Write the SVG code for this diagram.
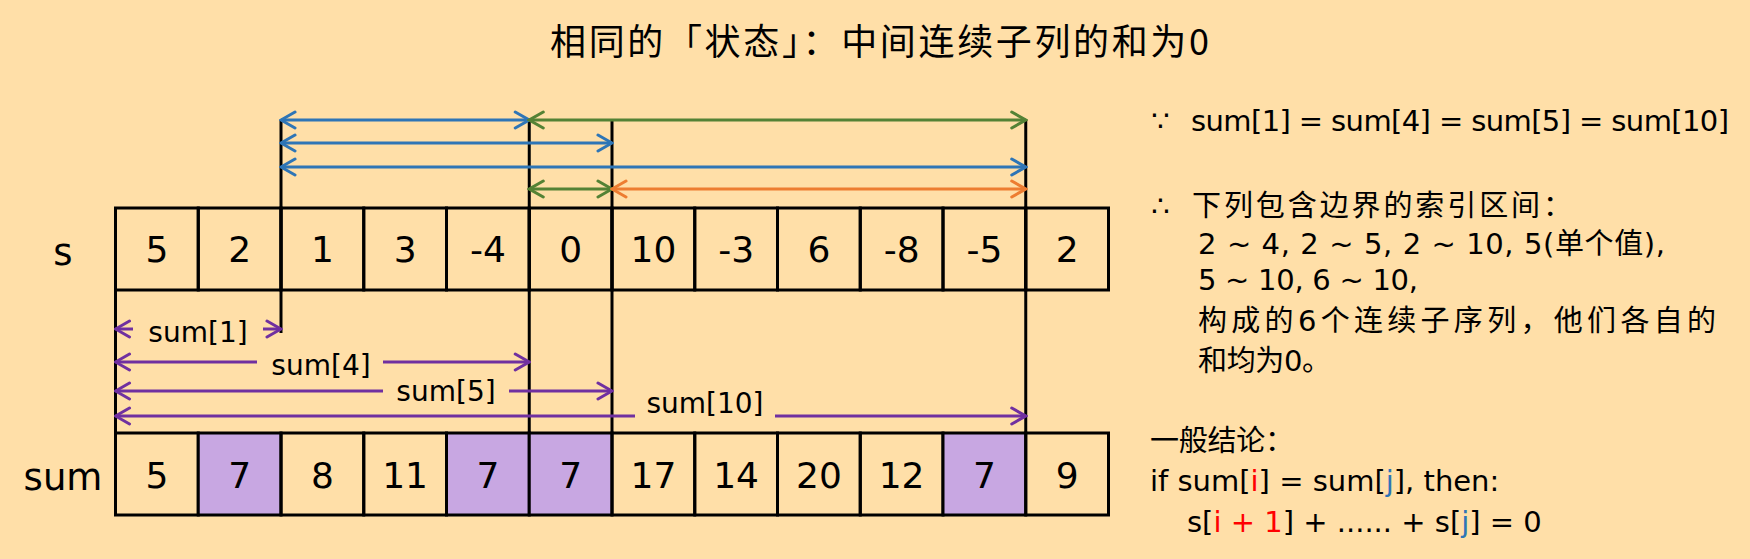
<svg xmlns="http://www.w3.org/2000/svg" width="1750" height="559" viewBox="0 0 1750 559">
<style>
.bg{fill:#FFDFA8}
.cell{fill:none;stroke:#000;stroke-width:3}
.hl{fill:#C8A7E2;stroke:#000;stroke-width:3}
.num{font-family:"DejaVu Sans",sans-serif;font-size:36px;fill:#000;text-anchor:middle}
.lab{font-family:"DejaVu Sans",sans-serif;font-size:37px;fill:#000;text-anchor:middle}
.sl{font-family:"DejaVu Sans",sans-serif;font-size:28px;fill:#000;text-anchor:middle}
.vl{stroke:#000;stroke-width:3;fill:none}
.ab{stroke:#2E75B6;stroke-width:3;fill:none}
.ag{stroke:#548235;stroke-width:3;fill:none}
.ao{stroke:#ED7D31;stroke-width:3;fill:none}
.ap{stroke:#7030A0;stroke-width:3;fill:none}
.title{font-family:"Noto Sans CJK SC",sans-serif;font-size:36px;fill:#000}
.rt{font-family:"DejaVu Sans","Noto Sans CJK SC",sans-serif;font-size:29px;fill:#000}
.red{fill:#FF0000}
.blu{fill:#2E75B6}
</style>
<defs>
<marker id="mb" viewBox="-16 -10 18 20" refX="0" refY="0" markerWidth="18" markerHeight="20" markerUnits="userSpaceOnUse" orient="auto-start-reverse"><path d="M-14,-8 L0,0 L-14,8" fill="none" stroke="#2E75B6" stroke-width="3" stroke-linecap="round"/></marker>
<marker id="mg" viewBox="-16 -10 18 20" refX="0" refY="0" markerWidth="18" markerHeight="20" markerUnits="userSpaceOnUse" orient="auto-start-reverse"><path d="M-14,-8 L0,0 L-14,8" fill="none" stroke="#548235" stroke-width="3" stroke-linecap="round"/></marker>
<marker id="mo" viewBox="-16 -10 18 20" refX="0" refY="0" markerWidth="18" markerHeight="20" markerUnits="userSpaceOnUse" orient="auto-start-reverse"><path d="M-14,-8 L0,0 L-14,8" fill="none" stroke="#ED7D31" stroke-width="3" stroke-linecap="round"/></marker>
<marker id="mp" viewBox="-16 -10 18 20" refX="0" refY="0" markerWidth="18" markerHeight="20" markerUnits="userSpaceOnUse" orient="auto-start-reverse"><path d="M-14,-8 L0,0 L-14,8" fill="none" stroke="#7030A0" stroke-width="3" stroke-linecap="round"/></marker>
</defs>
<rect class="bg" x="0" y="0" width="1750" height="559"/>
<text id="title" class="title" x="550" y="55" textLength="659">相同的「状态」：中间连续子列的和为0</text>

<g id="row-labels">
<text class="lab" x="63" y="265">s</text>
<text class="lab" x="63" y="490">sum</text>
</g>

<g id="s-row">
<g id="s0"><rect class="cell" x="115.5" y="208" width="82.75" height="82"/><text class="num" x="156.9" y="262">5</text></g>
<g id="s1"><rect class="cell" x="198.25" y="208" width="82.75" height="82"/><text class="num" x="239.6" y="262">2</text></g>
<g id="s2"><rect class="cell" x="281" y="208" width="82.75" height="82"/><text class="num" x="322.4" y="262">1</text></g>
<g id="s3"><rect class="cell" x="363.75" y="208" width="82.75" height="82"/><text class="num" x="405.1" y="262">3</text></g>
<g id="s4"><rect class="cell" x="446.5" y="208" width="82.75" height="82"/><text class="num" x="487.9" y="262">-4</text></g>
<g id="s5"><rect class="cell" x="529.25" y="208" width="82.75" height="82"/><text class="num" x="570.6" y="262">0</text></g>
<g id="s6"><rect class="cell" x="612" y="208" width="82.75" height="82"/><text class="num" x="653.4" y="262">10</text></g>
<g id="s7"><rect class="cell" x="694.75" y="208" width="82.75" height="82"/><text class="num" x="736.1" y="262">-3</text></g>
<g id="s8"><rect class="cell" x="777.5" y="208" width="82.75" height="82"/><text class="num" x="818.9" y="262">6</text></g>
<g id="s9"><rect class="cell" x="860.25" y="208" width="82.75" height="82"/><text class="num" x="901.6" y="262">-8</text></g>
<g id="s10"><rect class="cell" x="943" y="208" width="82.75" height="82"/><text class="num" x="984.4" y="262">-5</text></g>
<g id="s11"><rect class="cell" x="1025.75" y="208" width="82.75" height="82"/><text class="num" x="1067.1" y="262">2</text></g>
</g>

<g id="sum-row">
<g id="sum0"><rect class="cell" x="115.5" y="433" width="82.75" height="82"/><text class="num" x="156.9" y="488">5</text></g>
<g id="sum1"><rect class="hl" x="198.25" y="433" width="82.75" height="82"/><text class="num" x="239.6" y="488">7</text></g>
<g id="sum2"><rect class="cell" x="281" y="433" width="82.75" height="82"/><text class="num" x="322.4" y="488">8</text></g>
<g id="sum3"><rect class="cell" x="363.75" y="433" width="82.75" height="82"/><text class="num" x="405.1" y="488">11</text></g>
<g id="sum4"><rect class="hl" x="446.5" y="433" width="82.75" height="82"/><text class="num" x="487.9" y="488">7</text></g>
<g id="sum5"><rect class="hl" x="529.25" y="433" width="82.75" height="82"/><text class="num" x="570.6" y="488">7</text></g>
<g id="sum6"><rect class="cell" x="612" y="433" width="82.75" height="82"/><text class="num" x="653.4" y="488">17</text></g>
<g id="sum7"><rect class="cell" x="694.75" y="433" width="82.75" height="82"/><text class="num" x="736.1" y="488">14</text></g>
<g id="sum8"><rect class="cell" x="777.5" y="433" width="82.75" height="82"/><text class="num" x="818.9" y="488">20</text></g>
<g id="sum9"><rect class="cell" x="860.25" y="433" width="82.75" height="82"/><text class="num" x="901.6" y="488">12</text></g>
<g id="sum10"><rect class="hl" x="943" y="433" width="82.75" height="82"/><text class="num" x="984.4" y="488">7</text></g>
<g id="sum11"><rect class="cell" x="1025.75" y="433" width="82.75" height="82"/><text class="num" x="1067.1" y="488">9</text></g>
</g>

<g id="guides">
<line class="vl" x1="281" y1="120" x2="281" y2="333"/>
<line class="vl" x1="529.25" y1="120" x2="529.25" y2="433"/>
<line class="vl" x1="612" y1="121" x2="612" y2="433"/>
<line class="vl" x1="1025.75" y1="120" x2="1025.75" y2="433"/>
<line class="vl" x1="115.5" y1="290" x2="115.5" y2="433"/>
</g>

<g id="connectors">
<line class="ab" x1="281" y1="120" x2="529.25" y2="120" marker-start="url(#mb)" marker-end="url(#mb)"/>
<line class="ag" x1="529.25" y1="120" x2="1025.75" y2="120" marker-start="url(#mg)" marker-end="url(#mg)"/>
<line class="ab" x1="281" y1="143" x2="612" y2="143" marker-start="url(#mb)" marker-end="url(#mb)"/>
<line class="ab" x1="281" y1="167" x2="1025.75" y2="167" marker-start="url(#mb)" marker-end="url(#mb)"/>
<line class="ag" x1="529.25" y1="189" x2="612" y2="189" marker-start="url(#mg)" marker-end="url(#mg)"/>
<line class="ao" x1="612" y1="189" x2="1025.75" y2="189" marker-start="url(#mo)" marker-end="url(#mo)"/>

<line class="ap" x1="133" y1="329" x2="115.5" y2="329" marker-end="url(#mp)"/>
<line class="ap" x1="263" y1="329" x2="281" y2="329" marker-end="url(#mp)"/>
<text class="sl" x="198" y="342">sum[1]</text>

<line class="ap" x1="257" y1="362" x2="115.5" y2="362" marker-end="url(#mp)"/>
<line class="ap" x1="383" y1="362" x2="529.25" y2="362" marker-end="url(#mp)"/>
<text class="sl" x="321" y="375">sum[4]</text>

<line class="ap" x1="383" y1="391" x2="115.5" y2="391" marker-end="url(#mp)"/>
<line class="ap" x1="509" y1="391" x2="612" y2="391" marker-end="url(#mp)"/>
<text class="sl" x="446" y="401">sum[5]</text>

<line class="ap" x1="635" y1="416" x2="115.5" y2="416" marker-end="url(#mp)"/>
<line class="ap" x1="775" y1="416" x2="1025.75" y2="416" marker-end="url(#mp)"/>
<text class="sl" x="705" y="413">sum[10]</text>
</g>

<g id="explanation">
<text class="rt" x="1151" y="131">∵</text>
<text class="rt" x="1191" y="131" textLength="538">sum[1] = sum[4] = sum[5] = sum[10]</text>
<text class="rt" x="1151" y="216">∴</text>
<text class="rt" x="1192" y="216" textLength="380">下列包含边界的索引区间：</text>
<text class="rt" x="1198" y="254" textLength="467">2 ~ 4, 2 ~ 5, 2 ~ 10, 5(单个值),</text>
<text class="rt" x="1198" y="290" textLength="220">5 ~ 10, 6 ~ 10,</text>
<text class="rt" x="1198" y="331" textLength="518">构成的6个连续子序列，他们各自的</text>
<text class="rt" x="1198" y="371" textLength="133">和均为0。</text>
</g>

<g id="conclusion">
<text class="rt" x="1150" y="451" textLength="144">一般结论：</text>
<text class="rt" x="1150" y="491">if sum[<tspan class="red">i</tspan>] = sum[<tspan class="blu">j</tspan>], then:</text>
<text class="rt" x="1187" y="532">s[<tspan class="red">i + 1</tspan>] + ...... + s[<tspan class="blu">j</tspan>] = 0</text>
</g>
</svg>
